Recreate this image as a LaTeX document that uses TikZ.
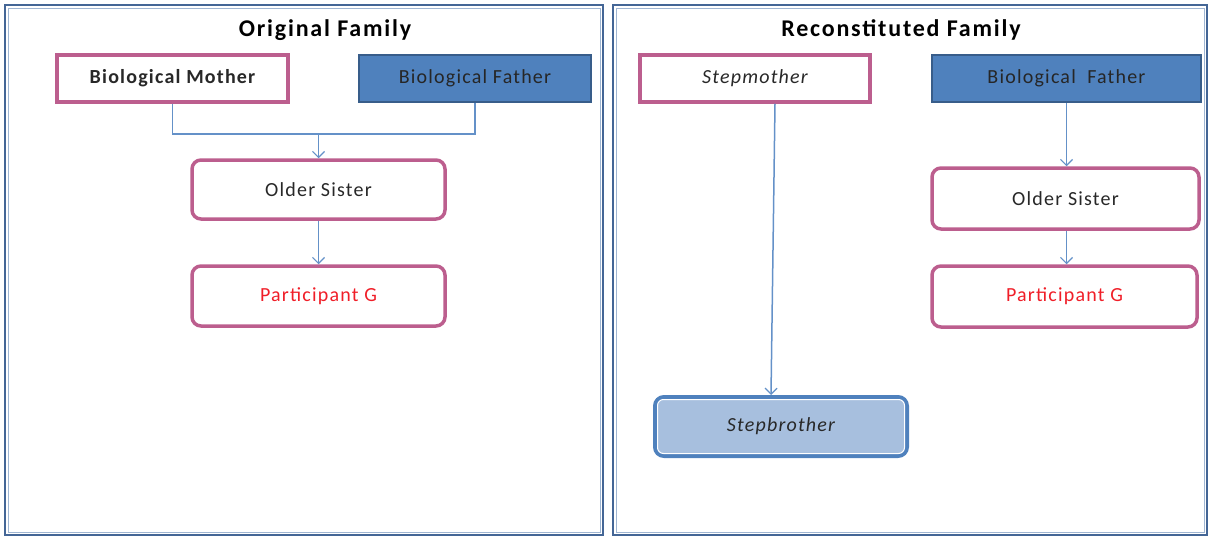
\documentclass[tikz,border=0pt]{standalone}
\usepackage{fontspec}
\setmainfont{Carlito}[LetterSpace=6]
\newfontfamily\ttlfont{Carlito}[LetterSpace=7.5]
\usetikzlibrary{arrows.meta,calc}
\definecolor{pinkb}{RGB}{188,94,142}
\definecolor{blueF}{RGB}{79,129,189}
\definecolor{blueD}{RGB}{56,93,138}
\definecolor{lineB}{RGB}{100,145,200}
\definecolor{panelD}{RGB}{68,102,150}
\definecolor{panelL}{RGB}{160,182,210}
\definecolor{sbfill}{RGB}{167,191,222}
\definecolor{txt}{RGB}{40,40,40}
\definecolor{redT}{RGB}{240,30,40}
\begin{document}
\begin{tikzpicture}[x=1pt,y=-1pt,
  panel/.style={draw=panelD,line width=2.5pt},
  panelin/.style={draw=panelL,line width=1pt},
  sqbox/.style={draw=pinkb,line width=3.5pt,fill=white,inner sep=0pt,font=\fontsize{20}{24}\selectfont,text=txt},
  fbox/.style={draw=blueD,line width=2.5pt,fill=blueF,inner sep=0pt,font=\fontsize{20}{24}\selectfont,text=black!85},
  rbox/.style={draw=pinkb,line width=3.5pt,fill=white,rounded corners=9pt,inner sep=0pt,font=\fontsize{20}{24}\selectfont,text=txt},
  sbbox/.style={draw=blueF,line width=4pt,fill=sbfill,rounded corners=9pt,inner sep=0pt,font=\fontsize{20}{24}\selectfont\itshape,text=txt},
  conn/.style={draw=lineB,line width=1.5pt},
  arr/.style={conn,-{Straight Barb[length=6pt,width=12pt,line width=1.2pt]}},
  ttl/.style={font=\ttlfont\fontsize{24}{28}\selectfont\bfseries,text=black}
]
\useasboundingbox (0,0) rectangle (1210,538);
% panels
\draw[panel] (5,5) rectangle (603,535);
\draw[panelin] (8,8) rectangle (600,532);
\draw[panel] (613,5) rectangle (1207,535);
\draw[panelin] (616,8) rectangle (1204,532);
\node[ttl] (t1) at (325,30) {Original Family};
\node[ttl] (t2) at (901,30) {Reconstituted Family};
% left
\node[sqbox,minimum width=231pt,minimum height=47pt,font=\fontsize{20}{24}\selectfont\bfseries] (bm) at (172.5,78.5) {Biological Mother};
\node[fbox,minimum width=232pt,minimum height=47pt] (bf) at (475,78.5) {Biological Father};
\node[rbox,minimum width=253pt,minimum height=59pt] (os) at (318.5,189.5) {Older Sister};
\node[rbox,minimum width=253pt,minimum height=60pt,text=redT] (pg) at (318.5,296) {Participant G};
\coordinate (j1) at ($(bm.south)+(0,30)$);
\draw[conn] (bm.south) -- (j1) -- (j1 -| bf.south) -- (bf.south);
\coordinate (j2) at (j1 -| os.north);
\draw[arr] (j2) -- (os.north);
\draw[arr] (os.south) -- (pg.north);
% right
\node[sqbox,minimum width=230pt,minimum height=47pt,font=\fontsize{20}{24}\selectfont\itshape] (sm) at (755,78.5) {Stepmother};
\node[fbox,minimum width=269pt,minimum height=47pt] (bf2) at (1066.5,78.5) {Biological\ \ Father};
\node[rbox,minimum width=267pt,minimum height=61pt] (os2) at (1065.5,198.5) {Older Sister};
\node[rbox,minimum width=265pt,minimum height=61pt,text=redT] (pg2) at (1064.5,296.5) {Participant G};
\node[sbbox,minimum width=252pt,minimum height=59pt] (sb) at (781,426.5) {Stepbrother};
\draw[white,line width=1pt,rounded corners=6pt] ($(sb.south west)+(4.5,-4.5)$) rectangle ($(sb.north east)+(-4.5,4.5)$);
\draw[arr] ($(sm.south)+(20,0)$) -- ($(sb.north)+(-10,0)$);
\draw[arr] (bf2.south) -- (bf2.south |- os2.north);
\draw[arr] (os2.south -| bf2.south) -- (bf2.south |- pg2.north);
\end{tikzpicture}
\end{document}
